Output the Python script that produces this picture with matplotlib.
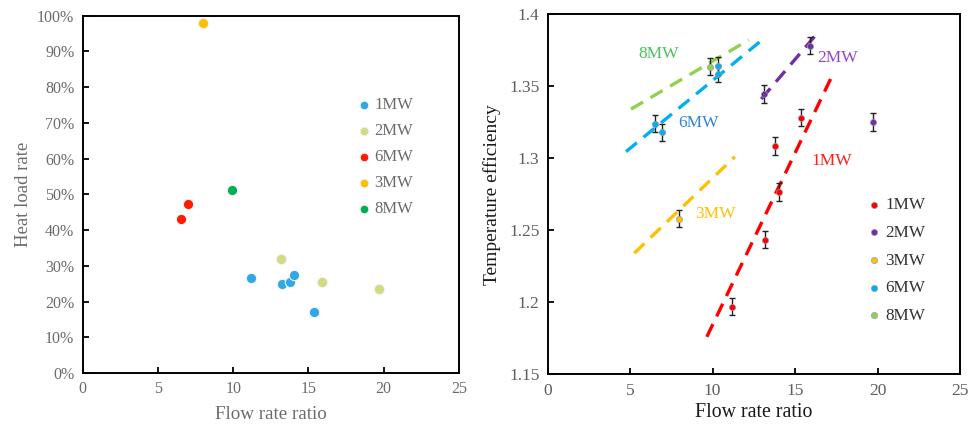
import matplotlib
matplotlib.use("Agg")
import matplotlib.pyplot as plt
from matplotlib.ticker import PercentFormatter, MultipleLocator

plt.rcParams['font.family'] = ['Liberation Serif', 'DejaVu Serif']

# ---------------- data: heat load rate vs flow rate ratio ----------------
load_labels = ["1MW", "2MW", "6MW", "3MW", "8MW"]
load_x = {
    "1MW": [11.2, 13.25, 13.8, 14.05, 15.35],
    "2MW": [13.2, 15.9, 19.7],
    "6MW": [6.55, 7.0],
    "3MW": [8.0],
    "8MW": [9.9],
}
load_y = {
    "1MW": [26.5, 24.8, 25.6, 27.5, 17.0],
    "2MW": [31.9, 25.4, 23.6],
    "6MW": [43.0, 47.4],
    "3MW": [98.0],
    "8MW": [51.2],
}
load_colors = {
    "1MW": "#2EA9E6",
    "2MW": "#D2DA86",
    "6MW": "#FF1A00",
    "3MW": "#FFBF00",
    "8MW": "#00B050",
}

# ---------------- data: temperature efficiency vs flow rate ratio ----------------
eff_labels = ["1MW", "2MW", "3MW", "6MW", "8MW"]
eff_x = {
    "1MW": [11.2, 13.2, 14.05, 13.8, 15.35],
    "2MW": [13.1, 15.9, 19.7],
    "3MW": [7.95],
    "6MW": [6.5, 6.95, 10.35, 10.35],
    "8MW": [9.85],
}
eff_y = {
    "1MW": [1.197, 1.2435, 1.2765, 1.3085, 1.328],
    "2MW": [1.3445, 1.378, 1.325],
    "3MW": [1.258],
    "6MW": [1.3240, 1.318, 1.364, 1.3585],
    "8MW": [1.3635],
}
eff_err = 0.006
eff_colors = {
    "1MW": "#FF0000",
    "2MW": "#7030A0",
    "3MW": "#FFC000",
    "6MW": "#00B0F0",
    "8MW": "#92D050",
}
# dashed trend lines: (x start, x end), (y start, y end)
trend_x = {
    "1MW": (9.65, 17.2),
    "2MW": (12.95, 16.45),
    "3MW": (5.25, 11.35),
    "6MW": (4.75, 13.0),
    "8MW": (5.05, 12.2),
}
trend_y = {
    "1MW": (1.176, 1.356),
    "2MW": (1.341, 1.388),
    "3MW": (1.234, 1.301),
    "6MW": (1.3045, 1.382),
    "8MW": (1.334, 1.382),
}
tag_pos = {
    "8MW": (6.7, 1.372),
    "6MW": (9.15, 1.3242),
    "2MW": (17.6, 1.3693),
    "1MW": (17.2, 1.298),
    "3MW": (10.2, 1.2612),
}
tag_colors = {
    "8MW": "#4FBF5E",
    "6MW": "#2E86D1",
    "2MW": "#9544C8",
    "1MW": "#FF1E1E",
    "3MW": "#FFC000",
}

fig = plt.figure(figsize=(9.69, 4.28), dpi=100)

# ---------------- left panel ----------------
ax1 = fig.add_axes([0.0853, 0.1285, 0.3884, 0.8348])
for lab in load_labels:
    ax1.scatter(load_x[lab], load_y[lab], s=55, color=load_colors[lab],
                edgecolors="#F4F4F4", linewidths=0.8, label=lab, zorder=3)
ax1.set_xlim(0, 25)
ax1.set_ylim(0, 100)
ax1.xaxis.set_major_locator(MultipleLocator(5))
ax1.yaxis.set_major_locator(MultipleLocator(10))
ax1.yaxis.set_major_formatter(PercentFormatter(decimals=0))
gray = "#6B6B6B"
ax1.tick_params(direction="in", length=4, width=1.3, colors="black",
                labelcolor=gray, labelsize=11.5, pad=6)
ax1.set_xlabel("Flow rate ratio", fontsize=13.7, color=gray, labelpad=6)
ax1.set_ylabel("Heat load rate", fontsize=13.5, color=gray, labelpad=4)
for sp in ax1.spines.values():
    sp.set_linewidth(1.4)
leg1 = ax1.legend(loc="upper left", bbox_to_anchor=(0.7, 0.795), frameon=False,
                  fontsize=12, handletextpad=0.0, labelspacing=0.6,
                  borderpad=0, handlelength=1.2, markerscale=0.85)
for t in leg1.get_texts():
    t.set_color(gray)

# ---------------- right panel ----------------
ax2 = fig.add_axes([0.5652, 0.1255, 0.4255, 0.8418])
for lab in eff_labels:
    ax2.plot(trend_x[lab], trend_y[lab], linestyle=(0, (4.2, 2.6)),
             color=eff_colors[lab], linewidth=2.4, zorder=2)
for lab in eff_labels:
    ax2.errorbar(eff_x[lab], eff_y[lab], yerr=eff_err, fmt="none",
                 ecolor="#222222", elinewidth=1.0, capsize=2.2,
                 capthick=1.0, zorder=3)
    ax2.scatter(eff_x[lab], eff_y[lab], s=20, color=eff_colors[lab],
                edgecolors="#9999AA", linewidths=0.5, label=lab, zorder=4)
for lab, (tx, ty) in tag_pos.items():
    ax2.text(tx, ty, lab, color=tag_colors[lab], fontsize=12.5,
             ha="center", va="center")
ax2.set_xlim(0, 25)
ax2.set_ylim(1.15, 1.4)
ax2.xaxis.set_major_locator(MultipleLocator(5))
ax2.set_yticks([1.15, 1.2, 1.25, 1.3, 1.35, 1.4])
ax2.set_yticklabels(["1.15", "1.2", "1.25", "1.3", "1.35", "1.4"])
ax2.tick_params(direction="in", length=4, width=1.3, colors="black",
                labelcolor="#5E5E5E", labelsize=12.5, pad=6)
ax2.set_xlabel("Flow rate ratio", fontsize=14.3, color="#1A1A1A", labelpad=3)
ax2.set_ylabel("Temperature efficiency", fontsize=14, color="#1A1A1A", labelpad=6)
for sp in ax2.spines.values():
    sp.set_linewidth(1.4)
leg2 = ax2.legend(loc="upper left", bbox_to_anchor=(0.745, 0.515), frameon=False,
                  fontsize=12.3, handletextpad=0.0, labelspacing=0.68,
                  borderpad=0, handlelength=1.3)
for t in leg2.get_texts():
    t.set_color("#333333")

fig.savefig("out.png", dpi=100)
